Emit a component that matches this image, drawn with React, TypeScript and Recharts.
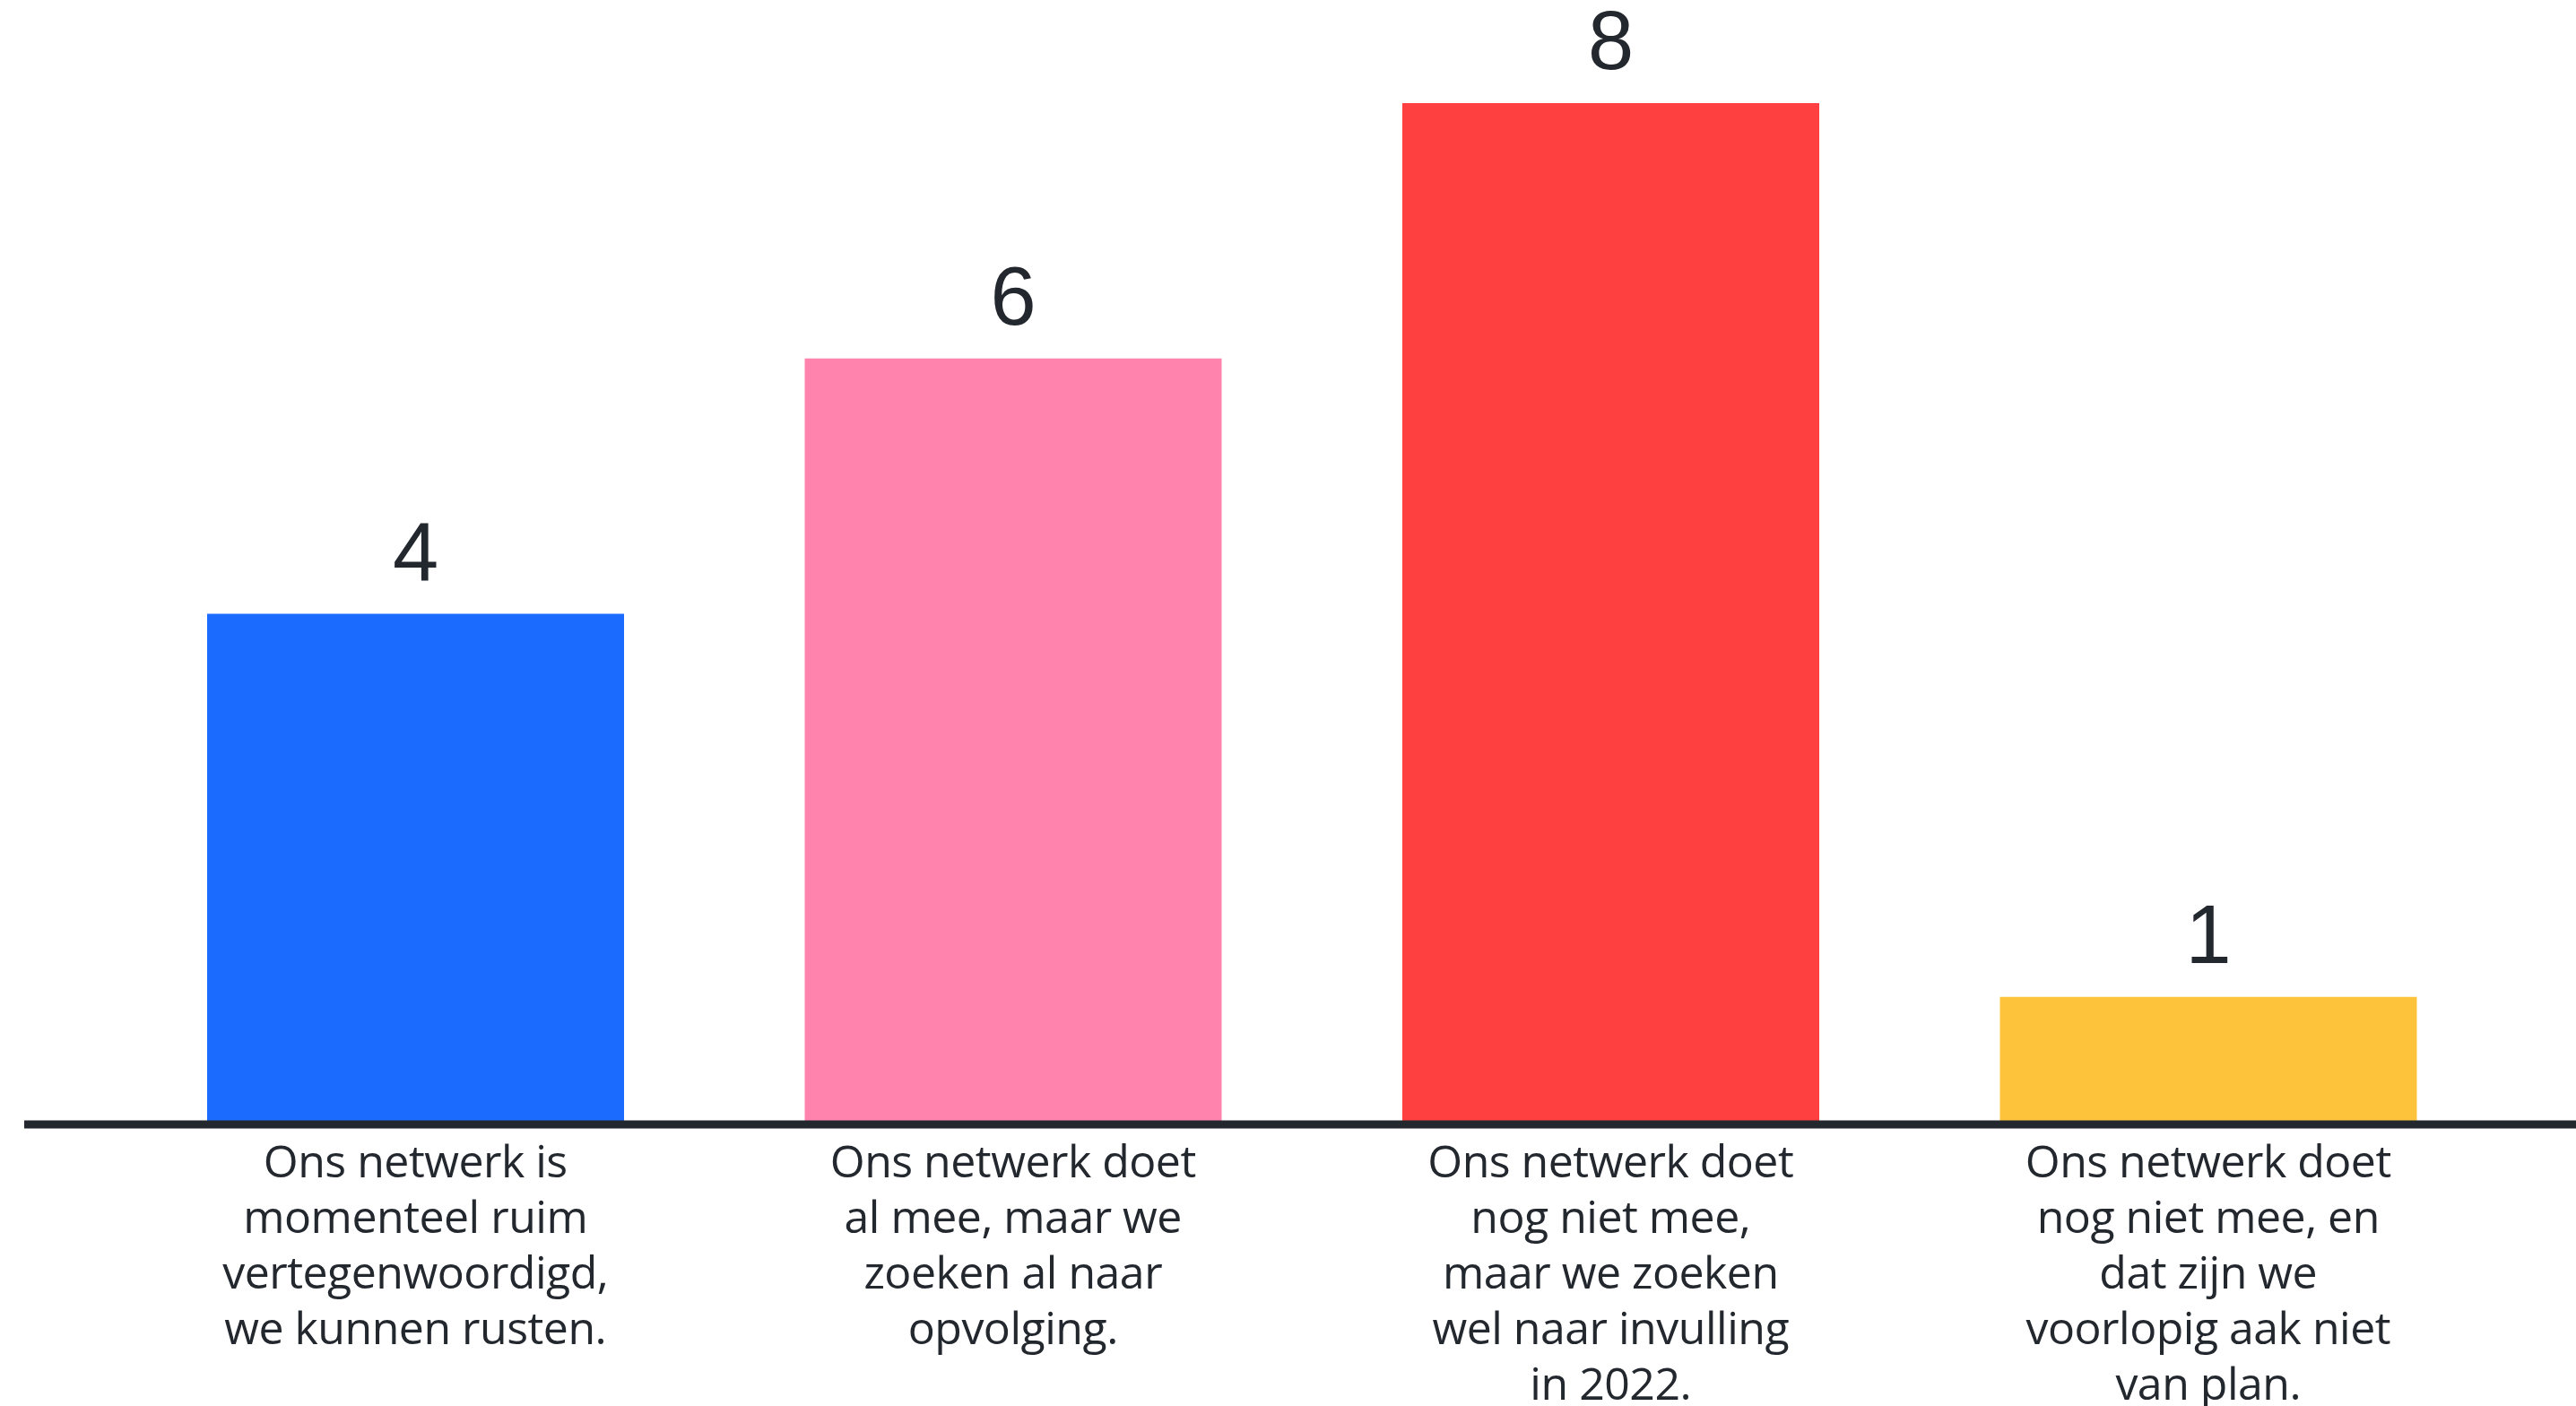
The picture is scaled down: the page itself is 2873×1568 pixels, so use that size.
import { BarChart, Bar, XAxis, YAxis, Cell, LabelList } from 'recharts';

const categories = [
  ['Ons netwerk is', 'momenteel ruim', 'vertegenwoordigd,', 'we kunnen rusten.'],
  ['Ons netwerk doet', 'al mee, maar we', 'zoeken al naar', 'opvolging.'],
  ['Ons netwerk doet', 'nog niet mee,', 'maar we zoeken', 'wel naar invulling', 'in 2022.'],
  ['Ons netwerk doet', 'nog niet mee, en', 'dat zijn we', 'voorlopig aak niet', 'van plan.'],
];
const values = [4, 6, 8, 1];
const colors = ['#1b6bff', '#ff83ac', '#ff4040', '#fdc43b'];

const TEXT = '#23272e';

const data = categories.map((lines, i) => ({
  name: lines.join(' '),
  lines,
  value: values[i],
}));

function MultiLineTick(props: any) {
  const { x, y, index } = props;
  const lines: string[] = data[index]?.lines ?? [];
  return (
    <text
      x={x}
      y={y + 59}
      textAnchor="middle"
      fill={TEXT}
      fontFamily="'Open Sans', sans-serif"
      fontSize={50}
      letterSpacing={-0.5}
    >
      {lines.map((line, i) => (
        <tspan key={i} x={x} dy={i === 0 ? 0 : 62}>
          {line}
        </tspan>
      ))}
    </text>
  );
}

export default function App() {
  return (
    <div style={{ position: 'absolute', left: 0, top: 0, width: 2873, height: 1568, background: '#fff' }}>
      <BarChart
        width={2873}
        height={1568}
        data={data}
        margin={{ top: 115, right: 0, left: 27, bottom: 0 }}
      >
        <YAxis hide domain={[0, 8]} />
        <Bar dataKey="value" barSize={465} isAnimationActive={false}>
          {data.map((_, i) => (
            <Cell key={i} fill={colors[i]} />
          ))}
          <LabelList
            dataKey="value"
            position="top"
            offset={38}
            fill={TEXT}
            fontSize={92}
            fontFamily="'Liberation Sans', Arial, sans-serif"
          />
        </Bar>
        <XAxis
          dataKey="name"
          height={314}
          padding={{ left: 103, right: 77 }}
          axisLine={{ stroke: TEXT, strokeWidth: 9 }}
          tickLine={false}
          tickSize={0}
          tickMargin={0}
          interval={0}
          tick={<MultiLineTick />}
        />
      </BarChart>
    </div>
  );
}
